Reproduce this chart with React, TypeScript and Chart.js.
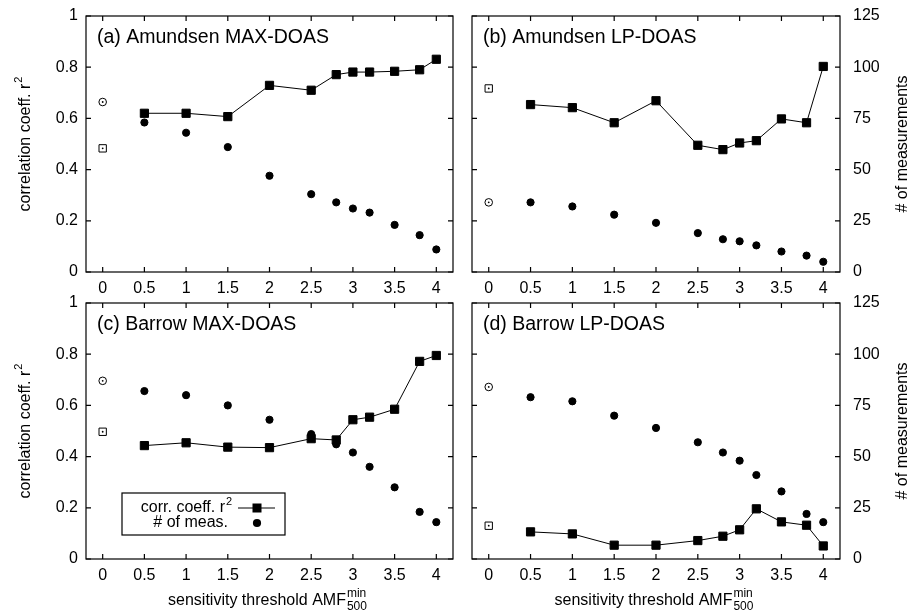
import React, { useEffect, useRef } from "react";
import { Chart, registerables } from "chart.js";

Chart.register(...registerables);

const FONT = '"Liberation Sans", Arial, Helvetica, sans-serif';

// thresholds (x) and tick labels
const THRESHOLDS = [0.5, 1, 1.5, 2, 2.5, 2.8, 3, 3.2, 3.5, 3.8, 4];
const X_TICKS = [0, 0.5, 1, 1.5, 2, 2.5, 3, 3.5, 4];
const R2_TICKS = [0, 0.2, 0.4, 0.6, 0.8, 1];
const N_TICKS = [0, 25, 50, 75, 100, 125];

// (a) Amundsen MAX-DOAS
const amMaxR2 = [0.62, 0.62, 0.607, 0.729, 0.71, 0.771, 0.781, 0.781, 0.784, 0.79, 0.831];
const amMaxN = [73, 68, 61, 47, 38, 34, 31, 29, 23, 18, 11];
const amMaxR2All = 0.483;
const amMaxNAll = 83;

// (b) Amundsen LP-DOAS
const amLpR2 = [0.654, 0.642, 0.583, 0.669, 0.495, 0.478, 0.504, 0.513, 0.598, 0.583, 0.803];
const amLpN = [34, 32, 28, 24, 19, 16, 15, 13, 10, 8, 5];
const amLpR2All = 0.717;
const amLpNAll = 34;

// (c) Barrow MAX-DOAS
const baMaxR2 = [0.443, 0.454, 0.437, 0.435, 0.47, 0.465, 0.544, 0.554, 0.585, 0.772, 0.795];
const baMaxN = [82, 80, 75, 68, 61, 56, 52, 45, 35, 23, 18];
const baMaxR2All = 0.497;
const baMaxNAll = 87;

// (d) Barrow LP-DOAS
const baLpR2 = [0.106, 0.098, 0.054, 0.054, 0.072, 0.089, 0.114, 0.196, 0.145, 0.132, 0.051];
const baLpN = [79, 77, 70, 64, 57, 52, 48, 41, 33, 22, 18];
const baLpR2All = 0.13;
const baLpNAll = 84;

type Area = { left: number; top: number; right: number; bottom: number };
type PanelCfg = {
  label: string;
  r2: number[];
  n: number[];
  r2All: number;
  nAll: number;
  area: Area;
  leftLabels: boolean;
  rightLabels: boolean;
  xTitle: boolean;
  legend: boolean;
};

const PANELS: PanelCfg[] = [
  { label: "(a) Amundsen MAX-DOAS", r2: amMaxR2, n: amMaxN, r2All: amMaxR2All, nAll: amMaxNAll,
    area: { left: 86, top: 16, right: 453, bottom: 272 }, leftLabels: true, rightLabels: false, xTitle: false, legend: false },
  { label: "(b) Amundsen LP-DOAS", r2: amLpR2, n: amLpN, r2All: amLpR2All, nAll: amLpNAll,
    area: { left: 472, top: 16, right: 840, bottom: 272 }, leftLabels: false, rightLabels: true, xTitle: false, legend: false },
  { label: "(c) Barrow MAX-DOAS", r2: baMaxR2, n: baMaxN, r2All: baMaxR2All, nAll: baMaxNAll,
    area: { left: 86, top: 303, right: 453, bottom: 559 }, leftLabels: true, rightLabels: false, xTitle: true, legend: true },
  { label: "(d) Barrow LP-DOAS", r2: baLpR2, n: baLpN, r2All: baLpR2All, nAll: baLpNAll,
    area: { left: 472, top: 303, right: 840, bottom: 559 }, leftLabels: false, rightLabels: true, xTitle: true, legend: false },
];

const W = 912;
const H = 611;

function drawRotated(ctx: CanvasRenderingContext2D, x: number, cy: number, main: string, sup: string) {
  ctx.save();
  ctx.translate(x, cy);
  ctx.rotate(-Math.PI / 2);
  ctx.font = `16px ${FONT}`;
  const mw = ctx.measureText(main).width;
  ctx.font = `11px ${FONT}`;
  const sw = sup ? ctx.measureText(sup).width + 1 : 0;
  const total = mw + sw;
  ctx.textAlign = "left";
  ctx.textBaseline = "middle";
  ctx.fillStyle = "#000";
  ctx.font = `16px ${FONT}`;
  ctx.fillText(main, -total / 2, 0);
  if (sup) {
    ctx.font = `11px ${FONT}`;
    ctx.fillText(sup, -total / 2 + mw + 1, -7);
  }
  ctx.restore();
}

const decorPlugin = {
  id: "decor",
  afterDatasetsDraw(chart: any, _args: any, opts: any) {
    const cfg: PanelCfg = opts.cfg;
    const { ctx, chartArea: a, scales } = chart;
    ctx.save();
    ctx.strokeStyle = "#000";
    ctx.lineWidth = 1.2;
    ctx.strokeRect(a.left, a.top, a.right - a.left, a.bottom - a.top);
    const TL = 5;
    ctx.beginPath();
    for (const v of X_TICKS) {
      const px = scales.x.getPixelForValue(v);
      ctx.moveTo(px, a.bottom);
      ctx.lineTo(px, a.bottom - TL);
      ctx.moveTo(px, a.top);
      ctx.lineTo(px, a.top + TL);
    }
    for (const v of R2_TICKS) {
      const py = scales.y.getPixelForValue(v);
      ctx.moveTo(a.left, py);
      ctx.lineTo(a.left + TL, py);
    }
    for (const v of N_TICKS) {
      const py = scales.y2.getPixelForValue(v);
      ctx.moveTo(a.right, py);
      ctx.lineTo(a.right - TL, py);
    }
    ctx.stroke();

    // panel label
    ctx.fillStyle = "#000";
    ctx.font = `19.5px ${FONT}`;
    ctx.textAlign = "left";
    ctx.textBaseline = "middle";
    ctx.fillText(cfg.label, a.left + 11, a.top + 22);

    // left / right axis titles
    const cy = (a.top + a.bottom) / 2;
    if (cfg.leftLabels) drawRotated(ctx, 26, cy, "correlation coeff. r", "2");
    if (cfg.rightLabels) drawRotated(ctx, 903, cy, "# of measurements", "");

    // x axis title
    if (cfg.xTitle) {
      const main = "sensitivity threshold AMF";
      ctx.font = `16px ${FONT}`;
      const mw = ctx.measureText(main).width;
      ctx.font = `12px ${FONT}`;
      const sw = Math.max(ctx.measureText("min").width, ctx.measureText("500").width);
      const cx = (a.left + a.right) / 2 - 2;
      const x0 = cx - (mw + sw + 1) / 2;
      const yb = a.bottom + 42;
      ctx.font = `16px ${FONT}`;
      ctx.textAlign = "left";
      ctx.textBaseline = "middle";
      ctx.fillText(main, x0, yb);
      ctx.font = `12px ${FONT}`;
      ctx.fillText("min", x0 + mw + 1, yb - 7);
      ctx.fillText("500", x0 + mw + 1, yb + 6);
    }

    // legend
    if (cfg.legend) {
      const bx = 122, by = 493, bw = 163, bh = 42;
      ctx.lineWidth = 1.2;
      ctx.strokeRect(bx, by, bw, bh);
      const r1 = 508, r2y = 523;
      ctx.font = `16px ${FONT}`;
      ctx.textBaseline = "middle";
      ctx.textAlign = "right";
      ctx.fillText("corr. coeff. r", 225, r1);
      ctx.font = `11px ${FONT}`;
      ctx.textAlign = "left";
      ctx.fillText("2", 226, r1 - 6);
      ctx.font = `16px ${FONT}`;
      ctx.textAlign = "right";
      ctx.fillText("# of meas.", 228, r2y);
      ctx.lineWidth = 1;
      ctx.beginPath();
      ctx.moveTo(238, r1);
      ctx.lineTo(275, r1);
      ctx.stroke();
      ctx.fillRect(257 - 4.5, r1 - 4.5, 9, 9);
      ctx.beginPath();
      ctx.arc(257, r2y, 4.1, 0, Math.PI * 2);
      ctx.fill();
    }
    ctx.restore();
  },
};

function fixWidth(w: number) {
  return (scale: any) => {
    scale.width = w;
    scale.paddingTop = 0;
    scale.paddingBottom = 0;
    scale.paddingLeft = 0;
    scale.paddingRight = 0;
  };
}
function fixHeight(h: number) {
  return (scale: any) => {
    scale.height = h;
    scale.paddingTop = 0;
    scale.paddingBottom = 0;
    scale.paddingLeft = 0;
    scale.paddingRight = 0;
  };
}

function Panel({ cfg }: { cfg: PanelCfg }) {
  const ref = useRef<HTMLCanvasElement | null>(null);
  useEffect(() => {
    if (!ref.current) return;
    const a = cfg.area;
    const r2Pts = THRESHOLDS.map((x, i) => ({ x, y: cfg.r2[i] }));
    const nPts = THRESHOLDS.map((x, i) => ({ x, y: cfg.n[i] }));
    const chart = new Chart(ref.current, {
      type: "line",
      data: {
        datasets: [
          {
            label: "corr. coeff. r2",
            data: r2Pts,
            yAxisID: "y",
            borderColor: "#000",
            borderWidth: 1,
            backgroundColor: "#000",
            pointStyle: "rect",
            pointRadius: 5.8,
            pointBorderWidth: 1,
            pointBorderColor: "#000",
            pointBackgroundColor: "#000",
            showLine: true,
            tension: 0,
          },
          {
            label: "# of meas.",
            data: nPts,
            yAxisID: "y2",
            showLine: false,
            pointStyle: "circle",
            pointRadius: 3.6,
            pointBorderWidth: 1,
            pointBorderColor: "#000",
            pointBackgroundColor: "#000",
          },
          {
            label: "r2 all dot",
            data: [{ x: 0, y: cfg.r2All }],
            yAxisID: "y",
            showLine: false,
            pointStyle: "circle",
            pointRadius: 0.9,
            pointBorderWidth: 0,
            pointBackgroundColor: "#000",
          },
          {
            label: "n all dot",
            data: [{ x: 0, y: cfg.nAll }],
            yAxisID: "y2",
            showLine: false,
            pointStyle: "circle",
            pointRadius: 0.9,
            pointBorderWidth: 0,
            pointBackgroundColor: "#000",
          },
          {
            label: "r2 all",
            data: [{ x: 0, y: cfg.r2All }],
            yAxisID: "y",
            showLine: false,
            pointStyle: "rect",
            pointRadius: 5.2,
            pointBorderWidth: 1,
            pointBorderColor: "#000",
            pointBackgroundColor: "#fff",
          },
          {
            label: "n all",
            data: [{ x: 0, y: cfg.nAll }],
            yAxisID: "y2",
            showLine: false,
            pointStyle: "circle",
            pointRadius: 3.8,
            pointBorderWidth: 1,
            pointBorderColor: "#000",
            pointBackgroundColor: "#fff",
          },
        ],
      },
      options: {
        responsive: false,
        animation: false,
        events: [],
        layout: {
          padding: { left: 0, top: a.top, right: 0, bottom: 0 },
        },
        plugins: {
          legend: { display: false },
          tooltip: { enabled: false },
          decor: { cfg },
        } as any,
        scales: {
          x: {
            type: "linear",
            min: -0.2,
            max: 4.2,
            offset: false,
            grid: { display: false, drawTicks: false },
            border: { display: false },
            afterBuildTicks: (scale: any) => {
              scale.ticks = X_TICKS.map((v) => ({ value: v }));
            },
            afterFit: fixHeight(H - a.bottom),
            ticks: {
              color: "#000",
              padding: 7,
              maxRotation: 0,
              minRotation: 0,
              autoSkip: false,
              font: { size: 16, family: FONT },
              callback: (v: any) => String(v),
            },
          },
          y: {
            type: "linear",
            position: "left",
            min: 0,
            max: 1,
            grid: { display: false, drawTicks: false },
            border: { display: false },
            afterBuildTicks: (scale: any) => {
              scale.ticks = R2_TICKS.map((v) => ({ value: v }));
            },
            afterFit: fixWidth(a.left),
            ticks: {
              display: cfg.leftLabels,
              color: "#000",
              padding: 8,
              autoSkip: false,
              font: { size: 16, family: FONT },
              callback: (v: any) => String(Math.round(v * 10) / 10),
            },
          },
          y2: {
            type: "linear",
            position: "right",
            min: 0,
            max: 125,
            grid: { display: false, drawTicks: false },
            border: { display: false },
            afterBuildTicks: (scale: any) => {
              scale.ticks = N_TICKS.map((v) => ({ value: v }));
            },
            afterFit: fixWidth(W - a.right),
            ticks: {
              display: cfg.rightLabels,
              color: "#000",
              padding: 13,
              autoSkip: false,
              font: { size: 16, family: FONT },
              callback: (v: any) => String(v),
            },
          },
        },
      } as any,
      plugins: [decorPlugin],
    });
    return () => chart.destroy();
  }, [cfg]);
  return (
    <canvas
      ref={ref}
      width={W}
      height={H}
      style={{ position: "absolute", left: 0, top: 0, width: W, height: H }}
    />
  );
}

export default function App() {
  return (
    <div
      style={{
        position: "absolute",
        left: 0,
        top: 0,
        width: W,
        height: H,
        background: "#fff",
        overflow: "hidden",
      }}
    >
      {PANELS.map((p) => (
        <Panel key={p.label} cfg={p} />
      ))}
    </div>
  );
}
